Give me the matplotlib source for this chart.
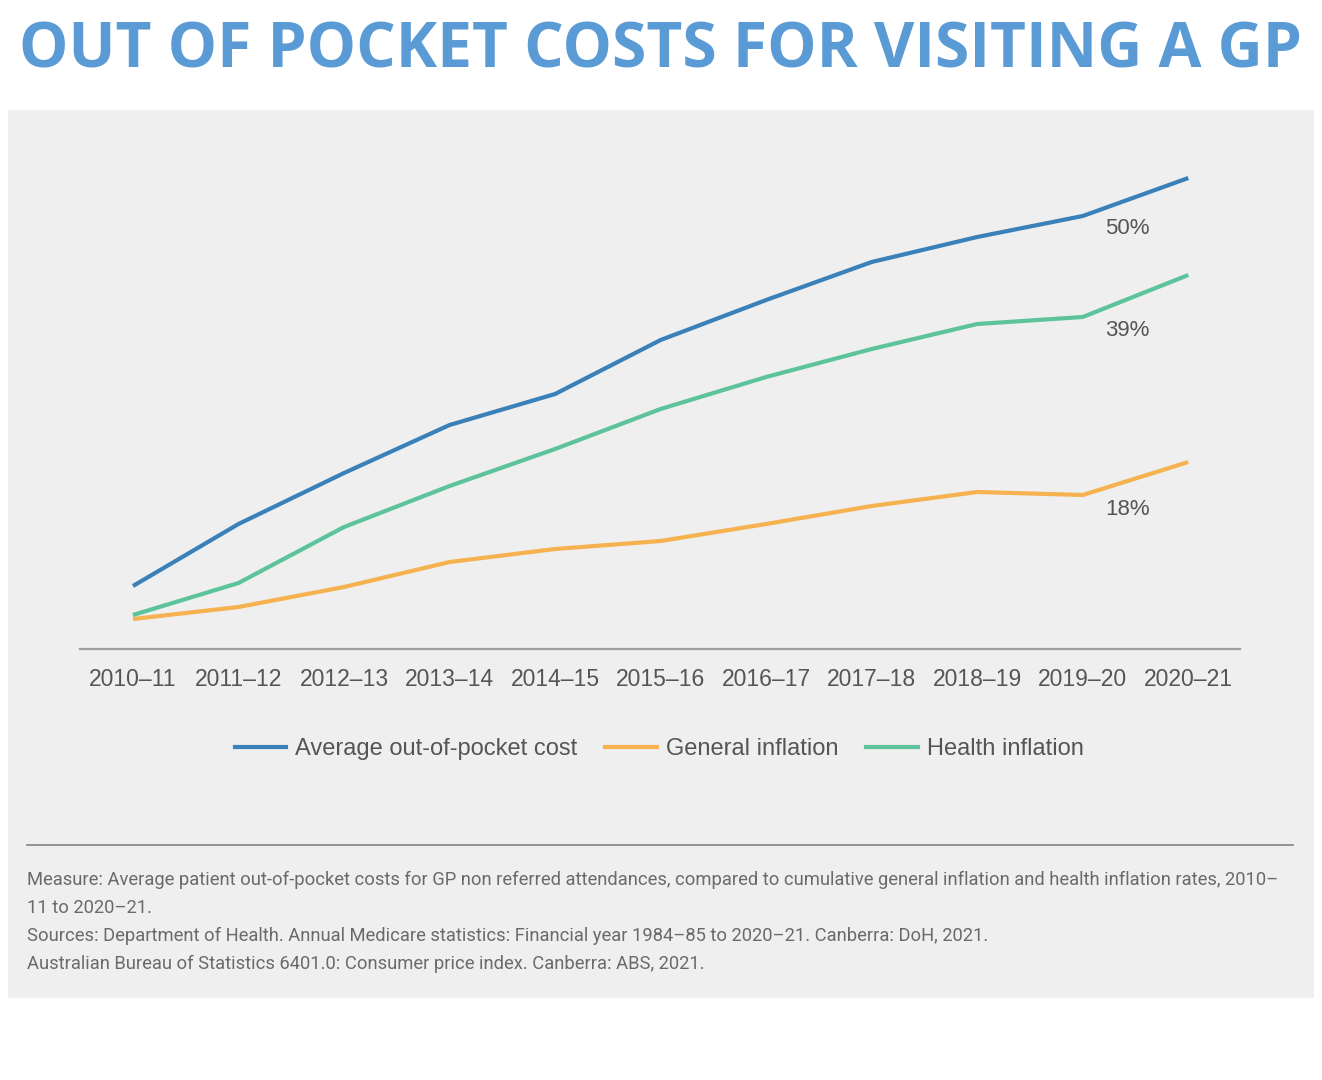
import matplotlib.pyplot as plt
from matplotlib.patches import Rectangle
from matplotlib.lines import Line2D

years = ['2010–11', '2011–12', '2012–13', '2013–14', '2014–15', '2015–16',
         '2016–17', '2017–18', '2018–19', '2019–20', '2020–21']
# relative index (no y scale is shown)
oop_cost = [6.3, 12.5, 17.6, 22.4, 25.5, 30.9, 34.9, 38.7, 41.2, 43.3, 47.1]
general_infl = [3.0, 4.2, 6.2, 8.7, 10.0, 10.8, 12.5, 14.3, 15.7, 15.4, 18.7]
health_infl = [3.4, 6.6, 12.2, 16.3, 20.0, 24.0, 27.2, 30.0, 32.5, 33.2, 37.4]
end_labels = ['50%', '18%', '39%']

c_blue = '#3a80b9'
c_orange = '#f6b24f'
c_green = '#5cc39b'
txt = '#555555'

fig = plt.figure(figsize=(13.22, 10.8), dpi=100)
fig.patch.set_facecolor('white')

# grey card behind the chart
fig.patches.append(Rectangle((8/1322, 1-998/1080), 1306/1322, 888/1080,
                             transform=fig.transFigure, facecolor='#efefef',
                             edgecolor='none', zorder=-5))

fig.text(660/1322, 1-51/1080, 'OUT OF POCKET COSTS FOR VISITING A GP',
         ha='center', va='center', color='#5b9bd5', fontsize=44.8,
         fontweight='bold', family='Open Sans')

ax = fig.add_axes([80/1322, 1-649/1080, 1160/1322, 499/1080], zorder=2)
ax.set_facecolor('none')
x = list(range(len(years)))
series = [(oop_cost, c_blue, 'Average out-of-pocket cost'),
          (general_infl, c_orange, 'General inflation'),
          (health_infl, c_green, 'Health inflation')]
offsets = [-36, -34, -40]
for (vals, col, lab), pct, dy in zip(series, end_labels, offsets):
    ax.plot(x, vals, color=col, lw=3, label=lab, solid_capstyle='butt')
    ax.annotate(pct, xy=(x[-1], vals[-1]), xytext=(-44, dy),
                textcoords='offset points', ha='center', va='center',
                fontsize=16, color=txt, family='Liberation Sans')

ax.set_xlim(-0.502, 10.49)
ax.set_ylim(0, 49.9)
ax.set_xticks(x)
ax.set_xticklabels(years, fontsize=16.5, color=txt, family='Liberation Sans')
ax.tick_params(axis='x', length=0, pad=14)
ax.set_yticks([])
for s in ['top', 'right', 'left']:
    ax.spines[s].set_visible(False)
ax.spines['bottom'].set_color('#a0a0a0')
ax.spines['bottom'].set_linewidth(1.6)

handles = [Line2D([], [], color=c, lw=3) for _, c, _ in series]
leg = fig.legend(handles, [s[2] for s in series], loc='center',
                 bbox_to_anchor=(659/1322, 1-749/1080), ncol=3, frameon=False,
                 handlelength=2.2, columnspacing=1.2, handletextpad=0.35,
                 prop={'family': 'Liberation Sans', 'size': 17})
for t in leg.get_texts():
    t.set_color(txt)

fig.add_artist(Line2D([27/1322, 1293/1322], [1-845/1080, 1-845/1080],
                      transform=fig.transFigure, color='#8c8c8c', lw=1.3))

notes = ['Measure: Average patient out-of-pocket costs for GP non referred attendances, '
         'compared to cumulative general inflation and health inflation rates, 2010–',
         '11 to 2020–21.',
         'Sources: Department of Health. Annual Medicare statistics: Financial year '
         '1984–85 to 2020–21. Canberra: DoH, 2021.',
         'Australian Bureau of Statistics 6401.0: Consumer price index. Canberra: ABS, 2021.']
for i, line in enumerate(notes):
    fig.text(27/1322, 1-(880 + i*28)/1080, line, ha='left', va='center',
             fontsize=13.2, color='#6a6a6a', family='Roboto')

fig.savefig('out.png', dpi=100)
